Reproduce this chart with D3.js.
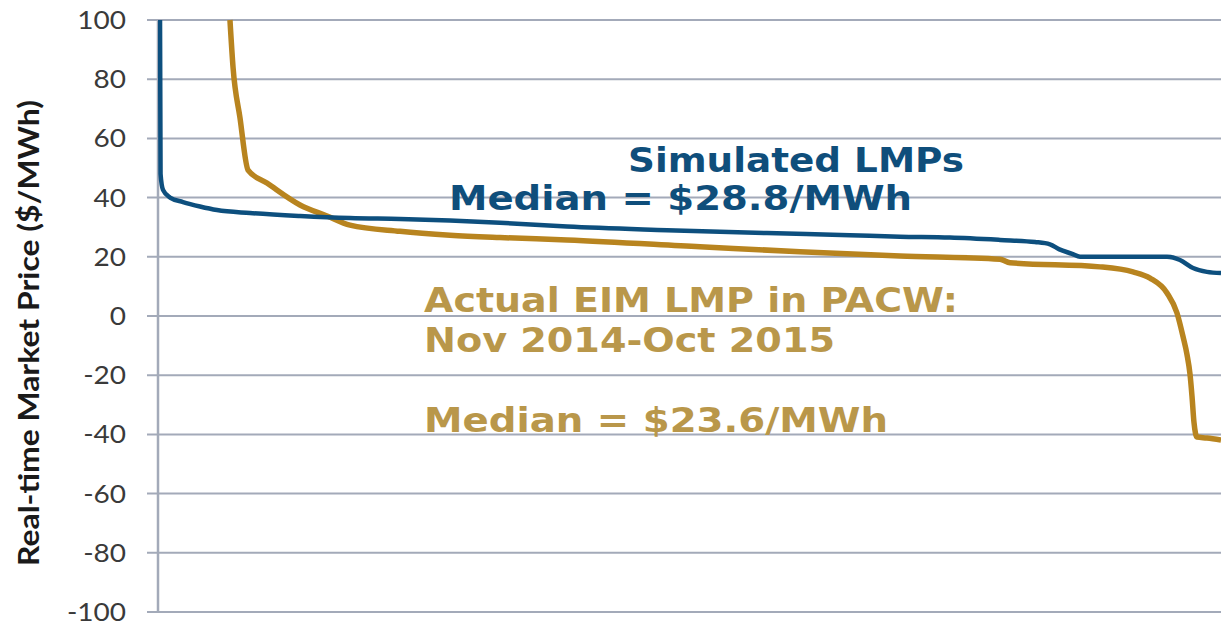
<!DOCTYPE html>
<html>
<head>
<meta charset="utf-8">
<script src="https://cdn.jsdelivr.net/npm/d3@7"></script>
<style>
  html, body { margin: 0; padding: 0; background: #ffffff; }
  svg { display: block; }
</style>
</head>
<body>
<svg id="chart" width="1221" height="623"></svg>
<script>
// ---- Data ----
// x: percent of hours (price duration curve), y: price in $/MWh
const yTicks = [100, 80, 60, 40, 20, 0, -20, -40, -60, -80, -100];

const simulatedX = [0.19, 0.24, 0.47, 1.13, 2.35, 3.95, 5.55, 8.65, 13.36, 18.06, 22.77, 27.47, 32.17, 38.48, 47.88, 57.29, 65.10, 69.80, 74.5, 79.21, 82.5, 83.91, 84.8, 86.0, 86.74, 94.92, 96.14, 97.37, 98.68, 100];
const simulatedY = [100, 48, 42.6, 40, 38.5, 37, 35.8, 34.8, 33.8, 33.1, 32.8, 32.3, 31.5, 30.2, 29.0, 28.0, 27.3, 26.8, 26.5, 25.7, 25.0, 24.2, 22.5, 21.0, 20.0, 20.0, 18.9, 16.2, 14.9, 14.5];

const actualX = [6.77, 7.06, 7.71, 8.47, 10.25, 13.36, 15.90, 18.06, 22.77, 27.47, 32.17, 38.48, 50.99, 60.40, 69.80, 79.21, 80.15, 88.62, 91.72, 93.32, 94.92, 95.86, 96.43, 96.8, 97.08, 97.27, 97.46, 97.74, 98.68, 100];
const actualY = [100, 84, 67, 49.3, 44.9, 37.5, 33.8, 30.7, 28.6, 27.3, 26.5, 25.7, 23.4, 21.7, 20.3, 19.2, 18.0, 16.6, 14.9, 12.8, 7.8, 1.0, -7.0, -13.0, -19.5, -27.0, -36.0, -40.9, -41.2, -41.9];

const yLabel = "Real-time Market Price ($/MWh)";
const annotations = [
  { text: "Simulated LMPs", series: "sim" },
  { text: "Median = $28.8/MWh", series: "sim" },
  { text: "Actual EIM LMP in PACW:", series: "act" },
  { text: "Nov 2014-Oct 2015", series: "act" },
  { text: "Median = $23.6/MWh", series: "act" }
];

// ---- Layout / style ----
const plotLeft = 158, plotRight = 1221, plotTop = 20, plotBottom = 612;
const gridLeft = 147;
const blueLine = "#0d4f7e", goldLine = "#b8841f";
const blueText = "#0f4e7b", goldText = "#b9974a";
const gridColor = "#a3aab9";

// annotation placement (pixels)
const annoLayout = [
  { x: 628, y: 172, len: 336 },
  { x: 449, y: 210, len: 463 },
  { x: 424, y: 312, len: 534 },
  { x: 424, y: 352, len: 411 },
  { x: 424, y: 432, len: 464 }
];

const svg = d3.select("#chart");

const x = d3.scaleLinear().domain([0, 100]).range([plotLeft, plotRight]);
const y = d3.scaleLinear().domain([-100, 100]).range([plotBottom, plotTop]);

// Gridlines
svg.append("g")
  .selectAll("line")
  .data(yTicks)
  .join("line")
  .attr("x1", gridLeft)
  .attr("x2", plotRight)
  .attr("y1", d => y(d))
  .attr("y2", d => y(d))
  .attr("stroke", gridColor)
  .attr("stroke-width", 2);

// Y axis (labels only) via d3.axisLeft
const yAxis = d3.axisLeft(y).tickValues(yTicks).tickSize(0).tickPadding(0)
  .tickFormat(d => String(d));
const gAxis = svg.append("g")
  .attr("transform", `translate(${plotLeft - 32},0)`)
  .call(yAxis);
gAxis.select(".domain").remove();
gAxis.selectAll("text")
  .attr("font-family", "Lato, 'Open Sans', sans-serif")
  .attr("font-size", 25)
  .attr("fill", "#3a3a3a")
  .attr("dy", "0.34em")
  .attr("transform", "scale(1.12,1)");

// vertical axis line
svg.append("line")
  .attr("x1", plotLeft).attr("x2", plotLeft)
  .attr("y1", y(100)).attr("y2", y(-100))
  .attr("stroke", gridColor)
  .attr("stroke-width", 2.5);

// clip
svg.append("clipPath").attr("id", "plotClip")
  .append("rect")
  .attr("x", plotLeft).attr("y", plotTop - 1)
  .attr("width", plotRight - plotLeft).attr("height", plotBottom - plotTop + 2);

const line = d3.line()
  .x(d => x(d[0]))
  .y(d => y(d[1]))
  .curve(d3.curveMonotoneX);

const simData = simulatedX.map((v, i) => [v, simulatedY[i]]);
const actData = actualX.map((v, i) => [v, actualY[i]]);

const plot = svg.append("g").attr("clip-path", "url(#plotClip)");

plot.append("path")
  .datum(actData)
  .attr("d", line)
  .attr("fill", "none")
  .attr("stroke", goldLine)
  .attr("stroke-width", 5.5)
  .attr("stroke-linejoin", "round");

plot.append("path")
  .datum(simData)
  .attr("d", line)
  .attr("fill", "none")
  .attr("stroke", blueLine)
  .attr("stroke-width", 4.5)
  .attr("stroke-linejoin", "round");

// Y axis title
svg.append("text")
  .attr("transform", "translate(39,333) rotate(-90)")
  .attr("text-anchor", "middle")
  .attr("font-family", "Lato, 'Open Sans', sans-serif")
  .attr("font-weight", "bold")
  .attr("font-size", 29)
  .attr("fill", "#1a1a1a")
  .attr("textLength", 466)
  .attr("lengthAdjust", "spacingAndGlyphs")
  .text(yLabel);

// Annotations
svg.append("g")
  .selectAll("text")
  .data(annotations)
  .join("text")
  .attr("x", (d, i) => annoLayout[i].x)
  .attr("y", (d, i) => annoLayout[i].y)
  .attr("textLength", (d, i) => annoLayout[i].len)
  .attr("lengthAdjust", "spacingAndGlyphs")
  .attr("font-family", "'DejaVu Sans', Verdana, sans-serif")
  .attr("font-weight", "bold")
  .attr("font-size", 34)
  .attr("fill", d => d.series === "sim" ? blueText : goldText)
  .text(d => d.text);
</script>
</body>
</html>
